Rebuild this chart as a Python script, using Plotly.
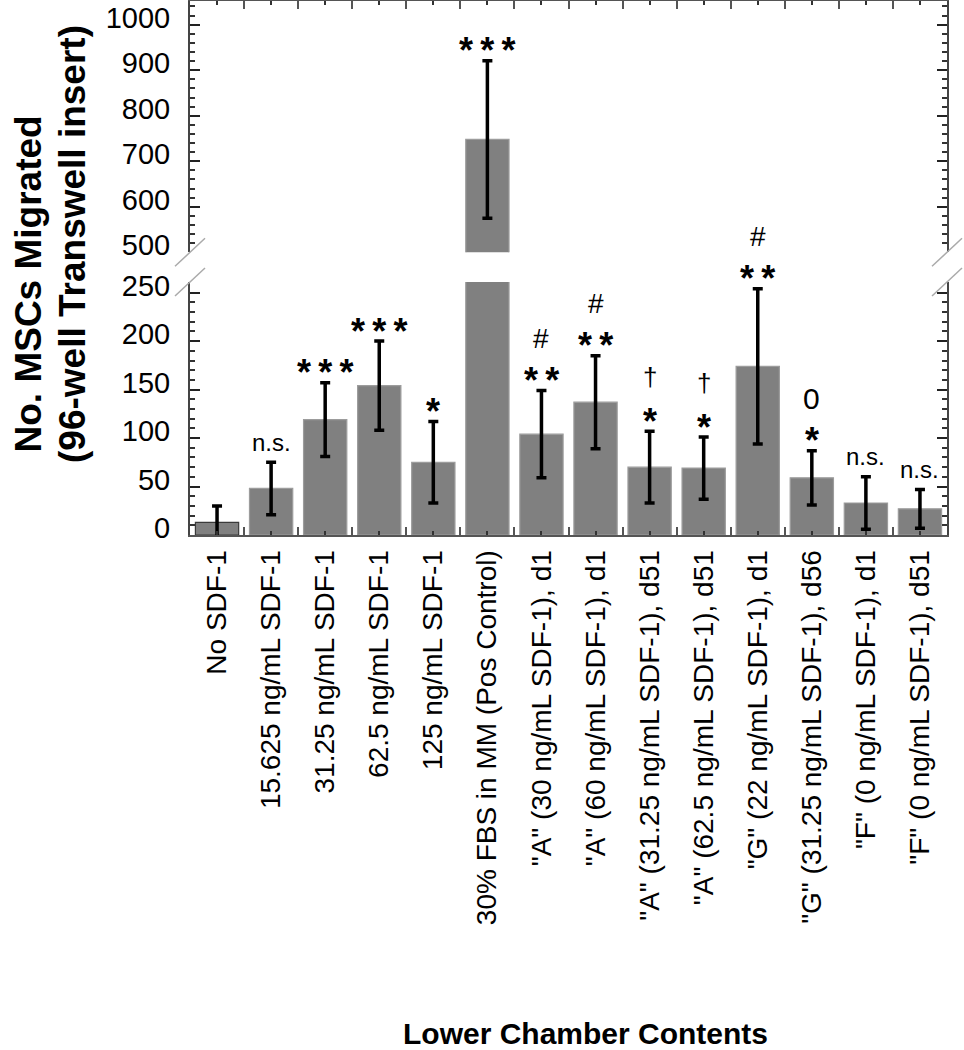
import plotly.graph_objects as go

# ---------------- data ----------------
categories = [
    "No SDF-1",
    "15.625 ng/mL SDF-1",
    "31.25 ng/mL SDF-1",
    "62.5 ng/mL SDF-1",
    "125 ng/mL SDF-1",
    "30% FBS in MM (Pos Control)",
    '"A" (30 ng/mL SDF-1), d1',
    '"A" (60 ng/mL SDF-1), d1',
    '"A" (31.25 ng/mL SDF-1), d51',
    '"A" (62.5 ng/mL SDF-1), d51',
    '"G" (22 ng/mL SDF-1), d1',
    '"G" (31.25 ng/mL SDF-1), d56',
    '"F" (0 ng/mL SDF-1), d1',
    '"F" (0 ng/mL SDF-1), d51',
]
means = [13, 48, 119, 154, 75, 748, 104, 137, 70, 69, 174, 59, 33, 27]
errors = [17, 27, 38, 46, 42, 173, 45, 48, 37, 32, 80, 28, 27, 20]
sig_first = ["", "n.s.", "***", "***", "*", "***", "**", "**", "*", "*", "**", "*", "n.s.", "n.s."]
sig_second = ["", "", "", "", "", "", "#", "#", "\u2020", "\u2020", "#", "0", "", ""]

lower_ticks = [0, 50, 100, 150, 200, 250]
upper_ticks = [500, 600, 700, 800, 900, 1000]

# ---------------- styling ----------------
FONT = "Liberation Sans, Arial, sans-serif"
BAR_COLOR = "#808080"
bar_edges = ["#3a3a3a"] + ["#9c9c9c"] * (len(categories) - 1)
LOWER_RANGE = [0, 261]
UPPER_RANGE = [500, 1052]
LOWER_DOM = [0, 0.4738]
UPPER_DOM = [0.5294, 1]
W, H = 964, 1050
PLOT_L, PLOT_W, PLOT_T, PLOT_H = 190, 757, 1, 534
PLOT_B = PLOT_T + PLOT_H

xs = list(range(len(categories)))

fig = go.Figure()
err_style = dict(type="data", array=errors, visible=True, color="black", thickness=3.5, width=5)

fig.add_trace(go.Bar(
    x=xs, y=means, width=0.8, xaxis="x", yaxis="y",
    marker=dict(color=BAR_COLOR, line=dict(color=bar_edges, width=1.2)),
    error_y=err_style, showlegend=False, hoverinfo="skip",
))
fig.add_trace(go.Bar(
    x=xs, y=means, width=0.8, xaxis="x2", yaxis="y2",
    marker=dict(color=BAR_COLOR, line=dict(color=bar_edges, width=1.2)),
    error_y=err_style, showlegend=False, hoverinfo="skip",
))

# significance marks (glyph-centre offsets in px)
sym_font = {"*": 36, "**": 36, "***": 36, "n.s.": 24, "#": 28, "\u2020": 26, "0": 30}
sym_corr = {"*": -8, "**": -8, "***": -8, "n.s.": 2, "#": 0, "\u2020": 2, "0": 0}
annotations = []
for i, (m, e, s1, s2) in enumerate(zip(means, errors, sig_first, sig_second)):
    top = m + e
    yref = "y" if top <= LOWER_RANGE[1] else "y2"
    for sym, shift in ((s1, 18), (s2, 52)):
        if not sym:
            continue
        txt = "<b>" + "\u2009".join(sym) + "</b>" if set(sym) == {"*"} else sym
        annotations.append(dict(
            x=i, y=top, xref="x", yref=yref, text=txt, showarrow=False,
            xanchor="center", yanchor="middle", yshift=shift + sym_corr[sym],
            font=dict(family=FONT, size=sym_font[sym], color="black"),
        ))

# axis titles (positions given in page pixels, converted to paper fractions)
def px_x(x):
    return (x - PLOT_L) / PLOT_W

def px_y(y):
    return (PLOT_B - y) / PLOT_H

annotations.append(dict(
    x=px_x(28), y=px_y(455), xref="paper", yref="paper",
    text="<b>No. MSCs Migrated</b>", textangle=-90, showarrow=False,
    xanchor="center", yanchor="bottom", font=dict(family=FONT, size=37, color="black"),
))
annotations.append(dict(
    x=px_x(72), y=px_y(465), xref="paper", yref="paper",
    text="<b>(96-well Transwell insert)</b>", textangle=-90, showarrow=False,
    xanchor="center", yanchor="bottom", font=dict(family=FONT, size=37, color="black"),
))
annotations.append(dict(
    x=px_x(585), y=px_y(1033), xref="paper", yref="paper",
    text="<b>Lower Chamber Contents</b>", showarrow=False,
    xanchor="center", yanchor="middle", font=dict(family=FONT, size=30, color="black"),
))

# axis-break marks
shapes = []
dx, dy = 15 / PLOT_W, 14 / PLOT_H
for xp in (0, 1):
    for yp in (UPPER_DOM[0], LOWER_DOM[1]):
        shapes.append(dict(type="line", xref="paper", yref="paper",
                           x0=xp - dx, y0=yp - dy, x1=xp + dx, y1=yp + dy,
                           line=dict(color="#aaaaaa", width=1.5)))

boundaries = [x - 0.5 for x in xs] + [xs[-1] + 0.5]
xcommon = dict(range=[-0.5, len(categories) - 0.5], showgrid=False, zeroline=False, automargin=False,
               showline=True, linecolor="#555", linewidth=2,
               tickvals=xs, ticks="inside", ticklen=4, tickwidth=1.5, tickcolor="#333",
               minor=dict(tickvals=boundaries, ticks="inside", ticklen=8, tickwidth=1.5, tickcolor="#555"))
ycommon = dict(showgrid=False, zeroline=False, showline=True, linecolor="#444", linewidth=2,
               automargin=False,
               mirror="ticks", ticks="inside", ticklen=10, tickwidth=2, tickcolor="#222",
               tickfont=dict(family=FONT, size=29, color="black"),
               ticklabelstandoff=12, ticklabelshift=-7)

fig.update_layout(
    width=W, height=H,
    margin=dict(l=PLOT_L, r=W - PLOT_L - PLOT_W, t=PLOT_T, b=H - PLOT_B, autoexpand=False),
    paper_bgcolor="white", plot_bgcolor="white",
    bargap=0.2,
    xaxis=dict(**xcommon, anchor="y", side="bottom", ticktext=categories, tickangle=-90,
               tickfont=dict(family=FONT, size=28, color="black"), ticklabelstandoff=2),
    xaxis2=dict(**xcommon, anchor="y2", side="top", matches="x", showticklabels=False),
    yaxis=dict(**ycommon, domain=LOWER_DOM, range=LOWER_RANGE, tickvals=lower_ticks,
               minor=dict(dtick=10, tick0=0, ticks="inside", ticklen=5, tickwidth=2, tickcolor="#333")),
    yaxis2=dict(**ycommon, domain=UPPER_DOM, range=UPPER_RANGE, tickvals=upper_ticks, anchor="x",
                minor=dict(dtick=20, tick0=500, ticks="inside", ticklen=5, tickwidth=2, tickcolor="#333")),
    annotations=annotations,
    shapes=shapes,
)

fig.write_html("out.html", config={"displayModeBar": False},
               post_script="document.body.style.margin='0';document.body.style.overflow='hidden';")
